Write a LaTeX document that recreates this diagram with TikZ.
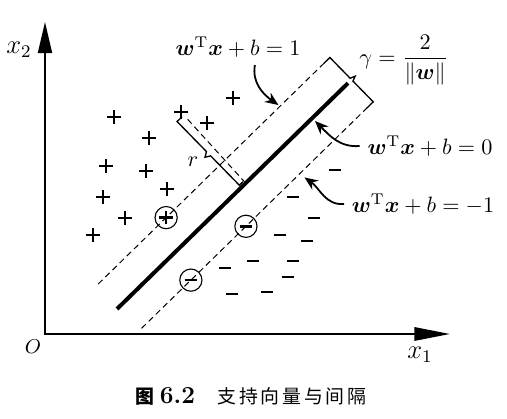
\documentclass[tikz,border=0pt]{standalone}
\usepackage{amsmath}
\usepackage{amssymb}
\usepackage{fontspec}
\newfontfamily\cjk[LetterSpace=15]{Noto Sans CJK SC}
\usetikzlibrary{arrows.meta}

\begin{document}
\begin{tikzpicture}[x=0.45pt, y=-0.45pt,
    axis/.style={line width=0.9pt, {Triangle[length=14pt,width=6.3pt]}-{Triangle[length=16pt,width=6pt]}},
    sep/.style={line width=1.8pt},
    margin/.style={dash pattern=on 2.7pt off 1.8pt, line width=0.45pt},
    caliper/.style={line width=0.6pt},
    lblarrow/.style={line width=0.8pt, -{Stealth[length=6pt,width=5pt]}},
    ptmark/.style={inner sep=0pt, minimum size=6.2pt},
    plusmark/.style={ptmark, path picture={
        \draw[line width=1.1pt] ([xshift=-3pt]path picture bounding box.center) -- ([xshift=3pt]path picture bounding box.center)
                                ([yshift=-3pt]path picture bounding box.center) -- ([yshift=3pt]path picture bounding box.center);}},
    minusmark/.style={ptmark, path picture={
        \draw[line width=1.15pt] ([xshift=-2.8pt]path picture bounding box.center) -- ([xshift=2.8pt]path picture bounding box.center);}},
    sv/.style={circle, draw, line width=0.5pt, minimum size=10pt}]

    \useasboundingbox (0,0) rectangle (507,419);

    % axes
    \coordinate (o) at (45,334);
    \draw[axis] (45,22) -- (o) -- (450,334);
    \node (x1) at (420,355) {\large $x_1$};
    \node (x2) at (19,50) {\large $x_2$};
    \node (orig) at (33,347) {\small $O$};

    % data points
    \foreach \x/\y [count=\i] in {181/112,114/117,233/98,207/123,149/138,106/166,146/171,103/197,167/189,125/218,93/235}
    \node[plusmark] (p\i) at (\x,\y) {};
    \foreach \x/\y [count=\i] in {335/170,293/197,314/218,280/235,307/241,253/261,293/261,225/268,288/277,232/294,267/292}
    \node[minusmark] (n\i) at (\x,\y) {};

    % hyperplane and margins, in the frame of the hyperplane
    \begin{scope}[shift={(117,309)}, x={(0.3218pt,0.3146pt)}, y={(0.3146pt,-0.3218pt)}]
        \draw[sep] (0,0) -- (323,0);
        \draw[margin] (4,-31) -- (319,-31);
        \draw[margin] (4,31) -- (319,31);

        % support vectors
        \node[plusmark, sv] (sv1) at (99,-31) {};
        \node[minusmark, sv] (sv2) at (150,31) {};
        \node[minusmark, sv] (sv3) at (73,31) {};

        % margin width
        \draw[caliper] (319,-31) -- (328,-31) -- (328,-2) -- (333,0) -- (328,2) -- (328,31) -- (319,31);

        % distance r
        \coordinate (foot) at (180,0);
        \draw[caliper] (181,-92) -- (174,-92) -- (174,-50) -- (169,-47) -- (174,-44) -- (174,-3) -- (179,-3);
        \node (r) at (157,-52) {$r$};

        % arrow targets
        \coordinate (c1) at (258,-33);
        \coordinate (c0) at (273,4);
        \coordinate (cm1) at (226,37);
    \end{scope}
    \draw[margin] (p1) -- (foot);

    % labels
    \node (lab1) at (238,47) {$\boldsymbol{w}^{\mathrm{T}}\boldsymbol{x}+b=1$};
    \node (lab0) at (430,146) {$\boldsymbol{w}^{\mathrm{T}}\boldsymbol{x}+b=0$};
    \node (labm1) at (423,204) {$\boldsymbol{w}^{\mathrm{T}}\boldsymbol{x}+b=-1$};
    \node (gam) at (404,60) {$\gamma=\dfrac{2}{\|\boldsymbol{w}\|}$};
    \draw[lblarrow] ([xshift=7.6pt]lab1.south) to[out=-100,in=145] (c1);
    \draw[lblarrow] (lab0.west) to[out=185,in=-45] (c0);
    \draw[lblarrow] (labm1.west) to[out=185,in=-35] (cm1);

    % caption
    \node (cap) at (251,396) {\fontsize{8.5}{10}\cjk\bfseries 图\hspace{2.5pt}\fontsize{11}{13}\normalfont\bfseries 6.2\hspace{10pt}\fontsize{8.5}{10}\cjk\mdseries 支持向量与间隔};
\end{tikzpicture}
\end{document}
